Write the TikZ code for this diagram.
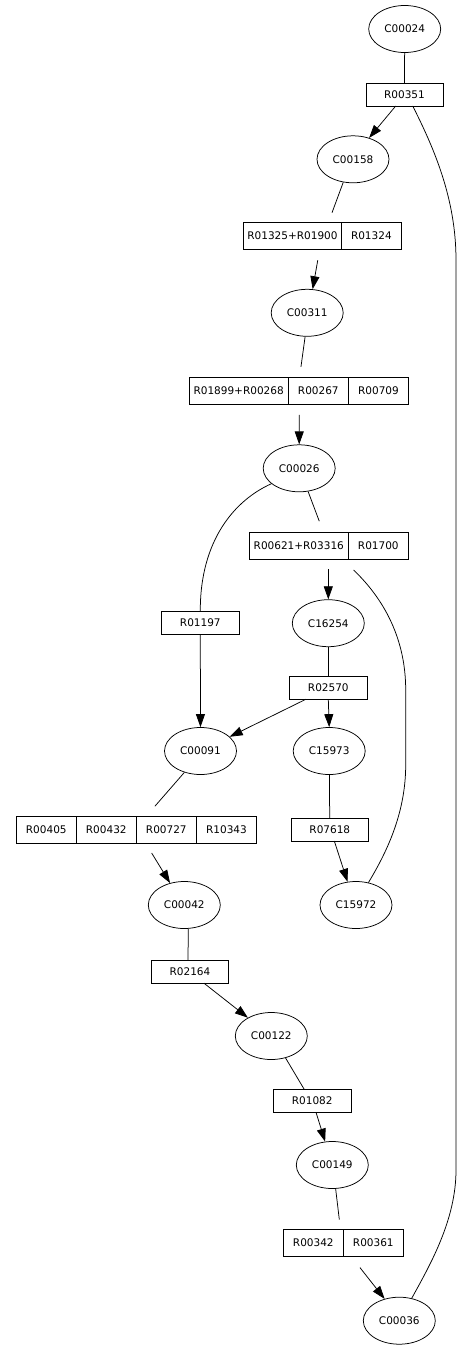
\documentclass[tikz,border=0pt]{standalone}
\usepackage{fontspec}
\setmainfont{DejaVu Sans}
\usetikzlibrary{
    shapes.geometric,
    arrows.meta,
    positioning
}
\definecolor{bgWhite}{RGB}{255, 255, 255}
\definecolor{lineBlack}{RGB}{0, 0, 0}
\def\pageW{461}
\def\pageH{1349}
\tikzset{
    compound/.style={
        ellipse,
        draw=lineBlack,
        line width=0.75pt,
        minimum width=72pt,
        minimum height=47pt,
        inner sep=0pt,
        font=\fontsize{10.5}{12}\selectfont
    },
    reaction/.style={
        rectangle,
        draw=lineBlack,
        line width=0.75pt,
        minimum height=23pt,
        inner sep=0pt,
        outer sep=0pt,
        font=\fontsize{10.5}{12}\selectfont
    },
    % one cell of a record box
    field/.style={
        reaction,
        minimum height=26.5pt,
        minimum width=#1
    },
    link/.style={
        draw=lineBlack,
        line width=0.75pt
    },
    flow/.style={
        link,
        -{Triangle[length=13pt,width=9pt]}
    }
}

\begin{document}
\begin{tikzpicture}[x=1pt, y=-1pt]
    \useasboundingbox (0,0) rectangle (\pageW, \pageH);
    \fill[bgWhite] (0,0) rectangle (\pageW, \pageH);

    % Main chain
    \node[compound] (c00024) at (404.7,29) {C00024};
    \node[reaction, minimum width=77pt] (r00351) at (404.5,94.5) {R00351};
    \node[compound] (c00158) at (353,159.3) {C00158};
    \node[field=98.4pt, anchor=west] (r01325) at (243.3,236) {R01325+R01900};
    \node[field=59.3pt, right=0pt of r01325] (r01324) {R01324};
    \node[compound] (c00311) at (307.2,312.8) {C00311};
    \node[field=99.3pt, anchor=west] (r01899) at (189,390.7) {R01899+R00268};
    \node[field=60pt, right=0pt of r01899] (r00267) {R00267};
    \node[field=60.4pt, right=0pt of r00267] (r00709) {R00709};
    \node[compound] (c00026) at (299.2,468.3) {C00026};
    \node[field=99pt, anchor=west] (r00621) at (249.3,545.7) {R00621+R03316};
    \node[field=60pt, right=0pt of r00621] (r01700) {R01700};

    % Two branches
    \node[reaction, minimum width=78pt] (r01197) at (200.3,622.7) {R01197};
    \node[compound] (c16254) at (328.3,623.2) {C16254};
    \node[reaction, minimum width=78pt] (r02570) at (328.3,687.7) {R02570};
    \node[compound] (c00091) at (200.5,751) {C00091};
    \node[compound] (c15973) at (329.2,751) {C15973};
    \node[field=60pt, anchor=west] (r00405) at (16.3,829.7) {R00405};
    \node[field=60pt, right=0pt of r00405] (r00432) {R00432};
    \node[field=60pt, right=0pt of r00432] (r00727) {R00727};
    \node[field=60.4pt, right=0pt of r00727] (r10343) {R10343};
    \node[reaction, minimum width=77.7pt] (r07618) at (329.8,829.5) {R07618};
    \node[compound] (c00042) at (184.3,905) {C00042};
    \node[compound] (c15972) at (356,905) {C15972};

    % Lower chain
    \node[reaction, minimum width=76.7pt] (r02164) at (190,971.7) {R02164};
    \node[compound] (c00122) at (271.3,1036) {C00122};
    \node[reaction, minimum width=77.7pt] (r01082) at (312.2,1100.8) {R01082};
    \node[compound] (c00149) at (332.3,1165) {C00149};
    \node[field=60pt, anchor=west] (r00342) at (283.3,1242.7) {R00342};
    \node[field=60pt, right=0pt of r00342] (r00361) {R00361};
    \node[compound] (c00036) at (399.3,1320.7) {C00036};

    % Edges
    \draw[link] (c00024) -- (r00351);
    \draw[flow] ([xshift=-8.8pt]r00351.south) -- (c00158.53);
    \draw[link] ([xshift=8.2pt]r00351.south) .. controls (435,150) and (456,200) .. (456,260)
        -- (456,1170) .. controls (456,1220) and (430,1265) .. (c00036.61);
    \draw[link, shorten >=10.7pt] (c00158.247) -- ([xshift=-13.4pt]r01325.north east);
    \draw[flow, shorten <=11.2pt] ([xshift=-22pt]r01325.south east) -- (c00311.77);
    \draw[link, shorten >=10.7pt] (c00311.265) -- ([xshift=-18.8pt]r00267.north);
    \draw[flow, shorten <=11pt] ([xshift=-19pt]r00267.south) -- (c00026.north);
    \draw[link] (c00026.209) .. controls (235,500) and (200,540) .. (r01197.north);
    \draw[link, shorten >=12pt] (c00026.291) -- ([xshift=24.7pt]r00621.north);
    \draw[flow, shorten <=10.3pt] ([xshift=29.5pt]r00621.south) -- (c16254.north);
    \draw[link, shorten <=16pt] ([xshift=-6.3pt]r01700.south west) .. controls (385,600) and (405.7,640) .. (405.7,690)
        -- (405.7,765) .. controls (405.7,815) and (385,855) .. (c15972.61);
    \draw[link] (c16254) -- (r02570);
    \draw[flow] ([xshift=16.7pt]r02570.south west) -- (c00091.26);
    \draw[flow] (r02570.south) -- (c15973.north);
    \draw[flow] (r01197) -- (c00091);
    \draw[link, shorten >=13.6pt] (c00091.233) -- ([xshift=-20.3pt]r00727.north);
    \draw[flow, shorten <=11.8pt] ([xshift=-20.8pt]r00727.south) -- (c00042.123);
    \draw[link] (c15973) -- (r07618);
    \draw[flow] ([xshift=4.5pt]r07618.south) -- (c15972.110);
    \draw[link] ([xshift=4pt]c00042.south) -- ([xshift=-2pt]r02164.north);
    \draw[flow] ([xshift=14pt]r02164.south) -- (c00122.142);
    \draw[link] (c00122.303) -- ([xshift=-8pt]r01082.north);
    \draw[flow] ([xshift=3.8pt]r01082.south) -- (c00149.107);
    \draw[link, shorten >=10pt] (c00149.278) -- ([xshift=-2.8pt]r00342.north east);
    \draw[flow, shorten <=14.9pt] ([xshift=7.5pt]r00361.south west) -- (c00036.124);
\end{tikzpicture}
\end{document}
